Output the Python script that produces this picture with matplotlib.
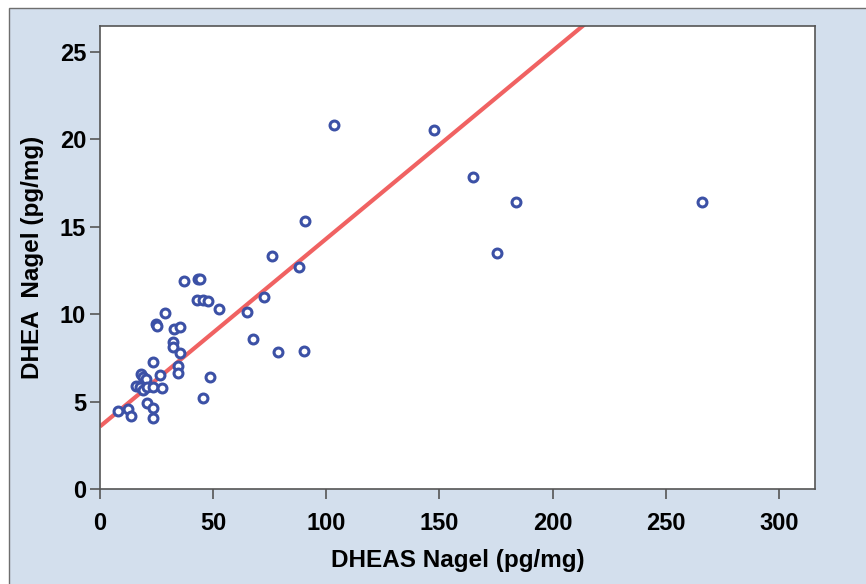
import matplotlib
matplotlib.use("Agg")
import matplotlib.pyplot as plt
from matplotlib.patches import Rectangle
import numpy as np

# DHEAS (pg/mg) values
dheas = [103.4, 147.6, 164.8, 183.8, 266.0, 175.4, 90.6, 76.0, 87.9, 72.5,
         52.7, 65.0, 67.6, 78.7, 90.1, 48.8, 45.5, 37.3, 43.4, 44.2,
         42.7, 45.4, 47.9, 28.7, 24.7, 25.1, 32.7, 35.4, 32.4, 32.4,
         35.4, 23.6, 34.6, 34.6, 18.0, 19.1, 20.3, 26.5, 15.9, 17.7,
         19.1, 20.6, 23.6, 27.5, 20.6, 23.6, 23.6, 8.1, 12.5, 13.6]
# DHEA (pg/mg) values
dhea = [20.83, 20.54, 17.86, 16.43, 16.43, 13.52, 15.35, 13.35, 12.72, 10.98,
        10.30, 10.14, 8.61, 7.87, 7.92, 6.42, 5.19, 11.93, 11.99, 12.04,
        10.84, 10.84, 10.74, 10.10, 9.46, 9.33, 9.17, 9.30, 8.44, 8.12,
        7.78, 7.30, 7.02, 6.64, 6.58, 6.44, 6.29, 6.53, 5.91, 5.87,
        5.68, 5.87, 5.87, 5.78, 4.96, 4.64, 4.07, 4.45, 4.59, 4.21]

# fit line
fit_intercept = 3.59
fit_slope = 0.1073

x_ticks = [0, 50, 100, 150, 200, 250, 300]
y_ticks = [0, 5, 10, 15, 20, 25]
x_label = "DHEAS Nagel (pg/mg)"
y_label = "DHEA  Nagel (pg/mg)"

plt.rcParams['font.family'] = ['Liberation Sans', 'DejaVu Sans']

W, H = 866, 584
fig = plt.figure(figsize=(W / 100, H / 100), dpi=100)
fig.patch.set_facecolor('white')
bg_color = '#d3dfed'
bg = Rectangle((9 / W, -0.1), 1.2, (H - 8.3) / H + 0.1,
               transform=fig.transFigure, facecolor=bg_color,
               edgecolor='#6e6e6e', linewidth=1.0, zorder=-10)
fig.add_artist(bg)

ax = fig.add_axes([100 / W, (H - 489.3) / H, (815 - 100) / W, (489.3 - 26) / H])
ax.set_facecolor('white')
ax.set_xlim(0, (815 - 100) / 2.263)
ax.set_ylim(0, (489.3 - 26) / 17.5)

xs = np.array([0, ax.get_xlim()[1]])
ax.plot(xs, fit_intercept + fit_slope * xs, color='#f06262', lw=3.0,
        solid_capstyle='butt', zorder=2)
ax.plot(dheas, dhea, linestyle='none', marker='o', markersize=6.4,
        markerfacecolor='white', markeredgecolor='#3c51a6',
        markeredgewidth=2.2, zorder=3)

ax.set_xticks(x_ticks)
ax.set_yticks(y_ticks)
ax.tick_params(direction='out', length=7, width=1.2, color='#555555',
               labelsize=17)
ax.tick_params(axis='x', pad=9)
ax.tick_params(axis='y', pad=3)
for lab in ax.get_xticklabels() + ax.get_yticklabels():
    lab.set_fontweight('bold')
for sp in ax.spines.values():
    sp.set_color('#555555')
    sp.set_linewidth(1.2)

ax.set_xlabel(x_label, fontsize=17.5, fontweight='bold', va='center')
ax.set_ylabel(y_label, fontsize=17.5, fontweight='bold', va='center')
ax.xaxis.set_label_coords(0.5, (489.3 - 560) / 463.3)
ax.yaxis.set_label_coords((33 - 100) / 715, 0.5)

fig.savefig('out.png', dpi=100, facecolor=fig.get_facecolor())
